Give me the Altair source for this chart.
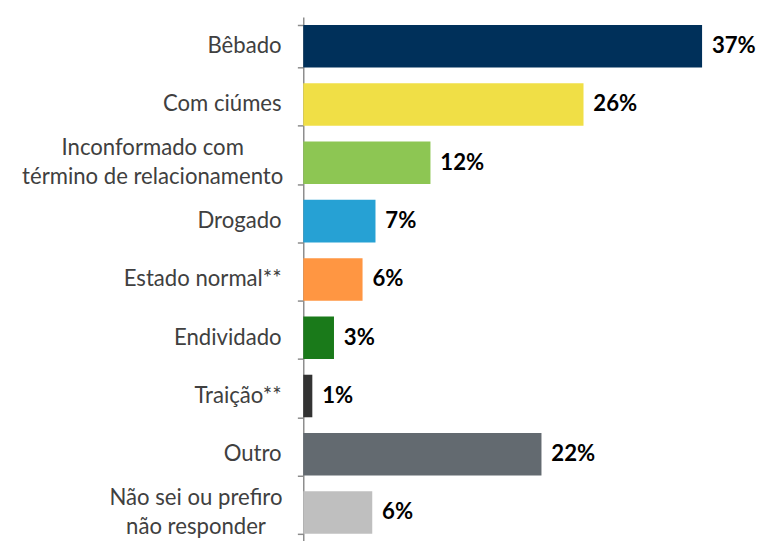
import altair as alt
import pandas as pd

categories = [
    "Bêbado",
    "Com ciúmes",
    "Inconformado com|término de relacionamento",
    "Drogado",
    "Estado normal**",
    "Endividado",
    "Traição**",
    "Outro",
    "Não sei ou prefiro|não responder",
]
values = [37.0, 26.0, 11.8, 6.7, 5.5, 2.85, 0.84, 22.1, 6.4]
value_labels = ["37%", "26%", "12%", "7%", "6%", "3%", "1%", "22%", "6%"]
colors = ["#00305A", "#F0DF46", "#8DC653", "#26A1D4", "#FF9642",
          "#1A7A1A", "#333333", "#636A70", "#BFBFBF"]
multiline = [("|" in c) for c in categories]

df = pd.DataFrame({
    "cat": categories,
    "value": values,
    "label": value_labels,
    "multi": multiline,
})

FONT = "Lato"

y_enc = alt.Y(
    "cat:N",
    sort=categories,
    scale=alt.Scale(range=[0, 533], paddingInner=0.27, paddingOuter=0.135),
    axis=alt.Axis(
        title=None, labels=False, ticks=True, tickBand="extent", tickSize=6,
        tickColor="#8C8C8C", tickWidth=1.5, domainColor="#8C8C8C",
        domainWidth=1.5, grid=False,
    ),
)
x_enc = alt.X("value:Q", scale=alt.Scale(domain=[0, 41], nice=False), axis=None)

base = alt.Chart(df)

bars = base.mark_bar().encode(
    x=x_enc,
    y=y_enc,
    color=alt.Color("cat:N", scale=alt.Scale(domain=categories, range=colors), legend=None),
)

vals = base.mark_text(
    align="left", baseline="middle", dx=10, font=FONT, fontSize=22.5,
    fontWeight="bold", color="#000000",
).encode(x=x_enc, y=alt.Y("cat:N", sort=categories), text="label:N")

cat_single = base.transform_filter("!datum.multi").mark_text(
    align="right", baseline="middle", font=FONT, fontSize=22.5, color="#404040",
).encode(x=alt.value(-22), y=alt.Y("cat:N", sort=categories), text="cat:N")

multi_a = base.transform_filter("datum.multi && indexof(datum.cat, 'Inconformado') == 0").mark_text(
    align="center", baseline="middle", font=FONT, fontSize=22.5, color="#404040",
    lineBreak="|", lineHeight=29, dy=-14.5,
).encode(x=alt.value(-153), y=alt.Y("cat:N", sort=categories), text="cat:N")

multi_b = base.transform_filter("datum.multi && indexof(datum.cat, 'Não') == 0").mark_text(
    align="center", baseline="middle", font=FONT, fontSize=22.5, color="#404040",
    lineBreak="|", lineHeight=29, dy=-14.5,
).encode(x=alt.value(-109), y=alt.Y("cat:N", sort=categories), text="cat:N")

chart = alt.layer(bars, vals, cat_single, multi_a, multi_b).properties(
    width=449,
    height=528,
    autosize=alt.AutoSizeParams(type="none"),
    padding={"left": 300, "top": 5, "right": 12, "bottom": 0},
).configure_view(stroke=None)

chart.save("out.html", embed_options={"renderer": "svg", "actions": False})
